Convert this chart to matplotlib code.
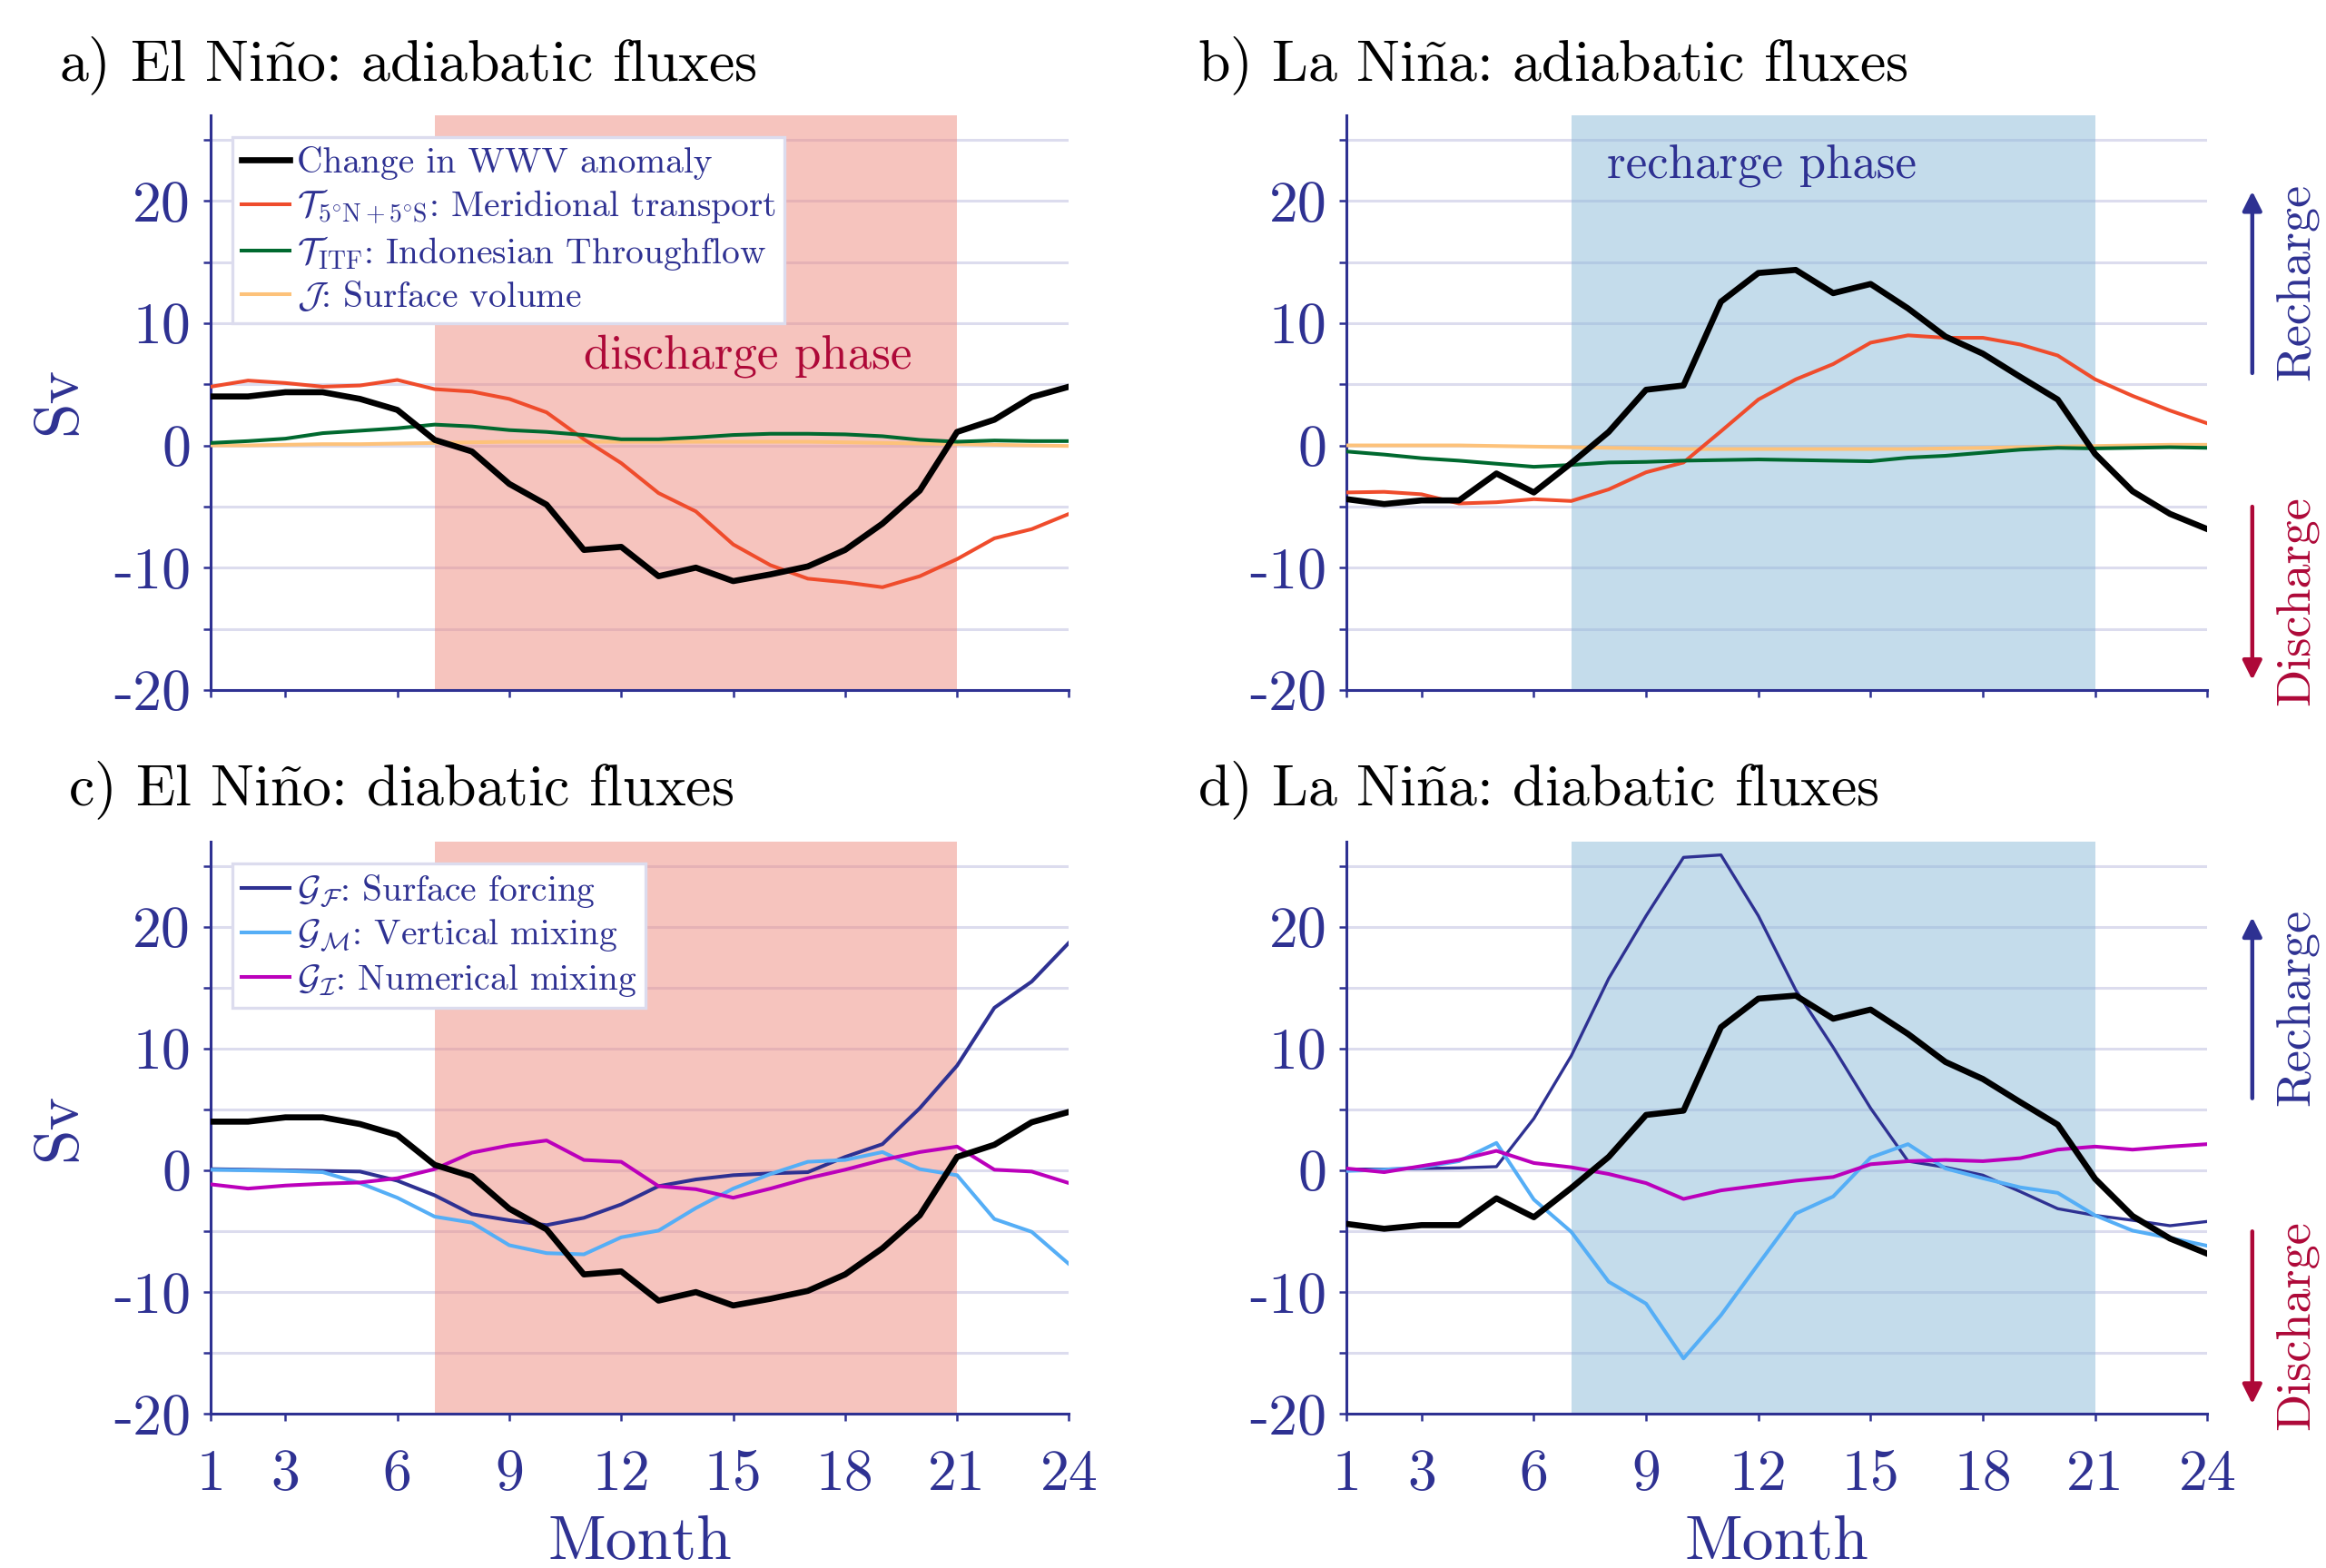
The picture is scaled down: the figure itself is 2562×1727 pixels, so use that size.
import numpy as np
import matplotlib
matplotlib.use("Agg")
import matplotlib.pyplot as plt

plt.rcParams['font.family'] = ['cmr10', 'DejaVu Serif']
plt.rcParams['mathtext.fontset'] = 'cm'
plt.rcParams['axes.unicode_minus'] = False

# Months
months = np.arange(1, 25)

# El Nino: change in WWV anomaly
wwv_nino = [4.0, 4.0, 4.35, 4.35, 3.8, 2.9, 0.45, -0.5, -3.15, -4.85, -8.55, -8.3,
            -10.7, -10.0, -11.1, -10.55, -9.9, -8.55, -6.4, -3.7, 1.1, 2.1, 3.95, 4.8]
# El Nino adiabatic
t_mer_nino = [4.8, 5.3, 5.1, 4.8, 4.9, 5.35, 4.6, 4.4, 3.8, 2.7, 0.5, -1.45,
              -3.9, -5.4, -8.1, -9.8, -10.9, -11.2, -11.6, -10.7, -9.3, -7.6, -6.85, -5.6]
t_itf_nino = [0.2, 0.35, 0.55, 1.0, 1.2, 1.4, 1.7, 1.55, 1.25, 1.1, 0.85, 0.5,
              0.5, 0.65, 0.85, 0.95, 0.95, 0.9, 0.75, 0.45, 0.3, 0.4, 0.35, 0.35]
j_nino = [0.0, 0.0, 0.05, 0.1, 0.1, 0.15, 0.2, 0.25, 0.3, 0.3, 0.3, 0.3,
          0.3, 0.3, 0.3, 0.3, 0.3, 0.25, 0.2, 0.15, 0.1, 0.05, 0.0, -0.05]
# El Nino diabatic
gf_nino = [0.1, 0.05, 0.0, -0.05, -0.1, -0.85, -2.05, -3.6, -4.1, -4.5, -3.9, -2.8,
           -1.3, -0.75, -0.4, -0.25, -0.15, 1.1, 2.15, 5.1, 8.6, 13.35, 15.5, 18.7]
gm_nino = [0.05, 0.0, -0.05, -0.15, -1.05, -2.25, -3.8, -4.3, -6.15, -6.8, -6.9, -5.5,
           -4.95, -3.1, -1.5, -0.3, 0.7, 0.85, 1.5, 0.1, -0.4, -4.0, -5.05, -7.7]
gi_nino = [-1.15, -1.5, -1.25, -1.1, -1.0, -0.65, 0.1, 1.45, 2.05, 2.45, 0.85, 0.7,
           -1.3, -1.55, -2.25, -1.5, -0.65, 0.05, 0.85, 1.5, 1.95, 0.05, -0.1, -1.05]

# La Nina: change in WWV anomaly
wwv_nina = [-4.4, -4.8, -4.5, -4.5, -2.3, -3.85, -1.45, 1.1, 4.55, 4.9, 11.75, 14.1,
            14.35, 12.45, 13.2, 11.2, 8.9, 7.5, 5.6, 3.75, -0.7, -3.75, -5.6, -6.85]
# La Nina adiabatic
t_mer_nina = [-3.85, -3.8, -4.0, -4.75, -4.65, -4.4, -4.55, -3.6, -2.2, -1.4, 1.15, 3.75,
              5.4, 6.65, 8.4, 9.0, 8.8, 8.8, 8.25, 7.35, 5.4, 4.05, 2.85, 1.8]
t_itf_nina = [-0.5, -0.75, -1.05, -1.25, -1.5, -1.75, -1.6, -1.4, -1.35, -1.25, -1.2, -1.15,
              -1.2, -1.25, -1.3, -1.0, -0.85, -0.6, -0.35, -0.2, -0.25, -0.2, -0.15, -0.2]
j_nina = [0.0, 0.0, 0.0, 0.0, -0.05, -0.1, -0.15, -0.2, -0.25, -0.3, -0.3, -0.3,
          -0.3, -0.3, -0.3, -0.3, -0.25, -0.2, -0.15, -0.1, -0.05, 0.0, 0.05, 0.05]
# La Nina diabatic
gf_nina = [0.1, 0.1, 0.15, 0.2, 0.3, 4.25, 9.4, 15.75, 20.9, 25.7, 25.9, 20.9,
           14.8, 10.1, 5.1, 0.75, 0.25, -0.4, -1.75, -3.15, -3.7, -4.1, -4.55, -4.2]
gm_nina = [-0.05, 0.05, 0.25, 0.75, 2.25, -2.4, -5.05, -9.15, -10.95, -15.45, -11.9, -7.7,
           -3.55, -2.15, 1.05, 2.15, 0.15, -0.65, -1.4, -1.85, -3.7, -4.95, -5.55, -6.2]
gi_nina = [0.15, -0.15, 0.35, 0.85, 1.6, 0.6, 0.25, -0.3, -1.05, -2.35, -1.65, -1.25,
           -0.85, -0.55, 0.5, 0.75, 0.85, 0.75, 1.0, 1.7, 1.95, 1.7, 1.95, 2.15]

xticks = [1, 3, 6, 9, 12, 15, 18, 21, 24]
yticks = [-20, -15, -10, -5, 0, 5, 10, 15, 20, 25]
ylabels = ['-20', '', '-10', '', '0', '', '10', '', '20', '']
phase = (7, 21)

navy = '#2e3192'
crimson = '#ae0838'
grid_c = '#dcdcee'
c_wwv = 'black'
c_mer = '#ef4c2c'
c_itf = '#00692f'
c_j = '#fdc27a'
c_gf = navy
c_gm = '#55aef6'
c_gi = '#bb00bb'

lw_black = 2.4
lw_col = 1.45

fig = plt.figure(figsize=(12.81, 8.635), dpi=200)

rects = {'a': [0.0906, 0.560, 0.369, 0.3665],
         'b': [0.579, 0.560, 0.370, 0.3665],
         'c': [0.0906, 0.0983, 0.369, 0.365],
         'd': [0.579, 0.0983, 0.370, 0.365]}


def setup(ax, shade, xlabels):
	ax.set_xlim(1, 24)
	ax.set_ylim(-20, 27)
	for s in ['top', 'right']:
		ax.spines[s].set_visible(False)
	for s in ['left', 'bottom']:
		ax.spines[s].set_color(navy)
		ax.spines[s].set_linewidth(1.1)
	ax.set_yticks(yticks)
	ax.set_yticklabels(ylabels)
	ax.set_xticks(xticks)
	if xlabels:
		ax.set_xticklabels([str(x) for x in xticks])
	else:
		ax.set_xticklabels([])
	ax.tick_params(axis='both', direction='out', length=3, width=0.9,
	               colors=navy, labelsize=23, labelcolor=navy)
	ax.tick_params(axis='y', pad=5)
	ax.tick_params(axis='x', pad=11)
	ax.grid(axis='y', color=grid_c, lw=1.1, zorder=0)
	ax.set_axisbelow(True)
	ax.axvspan(phase[0], phase[1], color=shade, alpha=0.5, lw=0, zorder=1)


def arrows(ax):
	ax.annotate('', xy=(25.2, 21.2), xytext=(25.2, 5.5),
	            arrowprops=dict(arrowstyle='-|>', color=navy, lw=1.6, mutation_scale=16),
	            annotation_clip=False)
	ax.annotate('', xy=(25.2, -19.6), xytext=(25.2, -4.6),
	            arrowprops=dict(arrowstyle='-|>', color=crimson, lw=1.6, mutation_scale=16),
	            annotation_clip=False)
	ax.text(26.4, 13.4, 'Recharge', rotation=90, ha='center', va='center',
	        color=navy, fontsize=19.5, clip_on=False)
	ax.text(26.4, -12.7, 'Discharge', rotation=90, ha='center', va='center',
	        color=crimson, fontsize=19.5, clip_on=False)


def legend(ax):
	leg = ax.legend(loc='upper left', bbox_to_anchor=(0.025, 0.962), borderaxespad=0,
	                fontsize=14.2, labelcolor=navy, handlelength=1.35, handletextpad=0.2,
	                labelspacing=0.22, borderpad=0.25, fancybox=False, framealpha=1,
	                edgecolor=grid_c)
	leg.get_frame().set_linewidth(1.2)
	leg.set_zorder(10)


red_shade = '#ef8a7f'
blue_shade = '#8bbad9'

# a) El Nino adiabatic
ax = fig.add_axes(rects['a'])
setup(ax, red_shade, False)
ax.plot(months, wwv_nino, color=c_wwv, lw=lw_black, zorder=5, label='Change in WWV anomaly')
ax.plot(months, t_mer_nino, color=c_mer, lw=lw_col, zorder=4,
        label=r'$\mathcal{T}_{5^{\circ}\mathrm{N}+5^{\circ}\mathrm{S}}$: Meridional transport')
ax.plot(months, t_itf_nino, color=c_itf, lw=lw_col, zorder=4,
        label=r'$\mathcal{T}_{\mathrm{ITF}}$: Indonesian Throughflow')
ax.plot(months, j_nino, color=c_j, lw=lw_col, zorder=3, label=r'$\mathcal{J}$: Surface volume')
legend(ax)
ax.text(15.4, 7.3, 'discharge phase', color=crimson, fontsize=19, ha='center', va='center', zorder=6)

# b) La Nina adiabatic
ax = fig.add_axes(rects['b'])
setup(ax, blue_shade, False)
ax.plot(months, wwv_nina, color=c_wwv, lw=lw_black, zorder=5)
ax.plot(months, t_mer_nina, color=c_mer, lw=lw_col, zorder=4)
ax.plot(months, t_itf_nina, color=c_itf, lw=lw_col, zorder=4)
ax.plot(months, j_nina, color=c_j, lw=lw_col, zorder=3)
ax.text(12.1, 22.8, 'recharge phase', color=navy, fontsize=19, ha='center', va='center', zorder=6)
arrows(ax)

# c) El Nino diabatic
ax = fig.add_axes(rects['c'])
setup(ax, red_shade, True)
ax.plot(months, gf_nino, color=c_gf, lw=lw_col, zorder=4, label=r'$\mathcal{G}_{\mathcal{F}}$: Surface forcing')
ax.plot(months, gm_nino, color=c_gm, lw=lw_col, zorder=4, label=r'$\mathcal{G}_{\mathcal{M}}$: Vertical mixing')
ax.plot(months, gi_nino, color=c_gi, lw=lw_col, zorder=4, label=r'$\mathcal{G}_{\mathcal{I}}$: Numerical mixing')
ax.plot(months, wwv_nino, color=c_wwv, lw=lw_black, zorder=5)
legend(ax)

# d) La Nina diabatic
ax = fig.add_axes(rects['d'])
setup(ax, blue_shade, True)
ax.plot(months, gf_nina, color=c_gf, lw=1.2, zorder=4)
ax.plot(months, gm_nina, color=c_gm, lw=lw_col, zorder=4)
ax.plot(months, gi_nina, color=c_gi, lw=lw_col, zorder=4)
ax.plot(months, wwv_nina, color=c_wwv, lw=lw_black, zorder=5)
arrows(ax)

# panel titles and shared labels
fig.text(0.0255, 0.948, r'a) El Ni$\tilde{\mathrm{n}}$o: adiabatic fluxes', fontsize=23, va='baseline')
fig.text(0.515, 0.948, r'b) La Ni$\tilde{\mathrm{n}}$a: adiabatic fluxes', fontsize=23, va='baseline')
fig.text(0.0293, 0.4864, r'c) El Ni$\tilde{\mathrm{n}}$o: diabatic fluxes', fontsize=23, va='baseline')
fig.text(0.515, 0.4864, r'd) La Ni$\tilde{\mathrm{n}}$a: diabatic fluxes', fontsize=23, va='baseline')

fig.text(0.025, 0.7445, 'Sv', rotation=90, color=navy, fontsize=25, ha='center', va='center')
fig.text(0.025, 0.281, 'Sv', rotation=90, color=navy, fontsize=25, ha='center', va='center')
fig.text(0.0906 + 0.369 / 2, 0.016, 'Month', color=navy, fontsize=25, ha='center', va='center')
fig.text(0.579 + 0.370 / 2, 0.016, 'Month', color=navy, fontsize=25, ha='center', va='center')

fig.savefig('out.png', dpi=200)
